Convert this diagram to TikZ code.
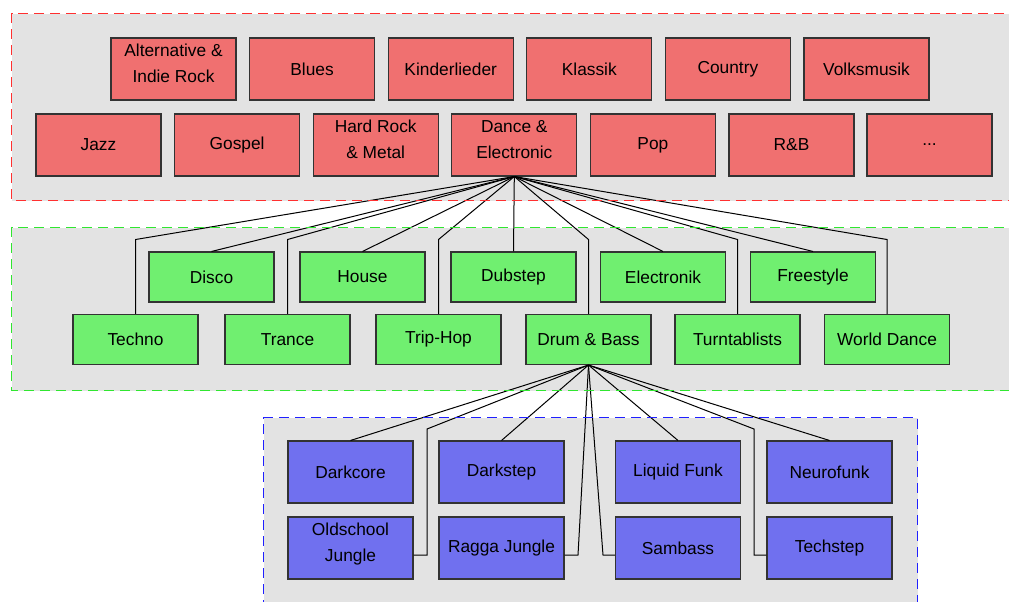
\documentclass[tikz,border=0pt]{standalone}
\usepackage{fontspec}
\setmainfont{Liberation Sans}
\definecolor{panelgray}{HTML}{E3E3E3}
\definecolor{genrered}{HTML}{F07070}
\definecolor{genregreen}{HTML}{70EF70}
\definecolor{genreblue}{HTML}{7070EF}
\definecolor{boxline}{HTML}{333333}
\definecolor{dashred}{HTML}{FF3030}
\definecolor{dashgreen}{HTML}{30E630}
\definecolor{dashblue}{HTML}{2020FF}
\newcommand{\lowpad}{\rule[-9pt]{0pt}{0pt}}
\tikzset{
  genre/.style={draw=boxline, line width=0.8pt, minimum width=93.75pt, inner sep=0pt,
    align=center, font=\fontsize{13}{19.5}\selectfont},
  topgenre/.style={genre, fill=genrered, minimum height=46.5pt},
  subgenre/.style={genre, fill=genregreen, minimum height=37.5pt},
  subsubgenre/.style={genre, fill=genreblue, minimum height=46.5pt},
  panel/.style={line width=1.2pt, dash pattern=on 7.5pt off 4.5pt},
  link/.style={line width=0.75pt}
}
\begin{document}
\begin{tikzpicture}[x=0.75pt,y=-0.75pt]
  \useasboundingbox (0,0) rectangle (1009,601);
  % panels
  \fill[panelgray] (11.5,13.5) rectangle (1020,200.5);
  \fill[panelgray] (11.5,227.5) rectangle (1020,390.5);
  \fill[panelgray] (263.5,417.5) rectangle (917.5,610);

  % genres
  \foreach \nm/\txt [count=\i from 0] in {alt/{Alternative \&\\Indie Rock\lowpad}, blues/Blues,
      kinder/Kinderlieder, klassik/Klassik, country/Country, volks/Volksmusik}
    \node[topgenre] (\nm) at (173.5+138.6*\i,69) {\txt};
  \foreach \nm/\txt [count=\i from 0] in {jazz/Jazz, gospel/Gospel, hardrock/{Hard Rock\\\& Metal\lowpad},
      dance/{Dance \&\\Electronic\lowpad}, pop/Pop, rnb/R\&B}
    \node[topgenre] (\nm) at (98.5+138.6*\i,145) {\txt};
  \node[topgenre] (more) at (929.5,145) {...};

  % sub genres
  \foreach \nm/\x/\txt in {disco/211.5/Disco, house/362.5/House, dubstep/513.5/Dubstep,
      electronik/663/Electronik, freestyle/813/Freestyle}
    \node[subgenre] (\nm) at (\x,277) {\txt};
  \foreach \nm/\x/\txt in {techno/135.5/Techno, trance/287.5/Trance, triphop/438.5/Trip-Hop,
      dnb/588.5/Drum \& Bass, turnt/737.5/Turntablists, world/887/World Dance}
    \node[subgenre] (\nm) at (\x,339.5) {\txt};

  % drum & bass styles
  \foreach \nm/\x/\txt in {darkcore/350.5/Darkcore, darkstep/501.5/Darkstep,
      liquid/678/Liquid Funk, neuro/829.5/Neurofunk}
    \node[subsubgenre] (\nm) at (\x,472) {\txt};
  \foreach \nm/\x/\txt in {oldschool/350.5/{Oldschool\\Jungle\lowpad}, ragga/501.5/Ragga Jungle,
      sambass/678/Sambass, techstep/829.5/Techstep}
    \node[subsubgenre] (\nm) at (\x,548) {\txt};

  % connectors
  \foreach \nm in {disco,house,dubstep,electronik,freestyle}
    \draw[link] (dance.south) -- (\nm.north);
  \foreach \nm in {techno,trance,triphop,dnb,turnt,world}
    \draw[link] (dance.south) -- (\nm.north |- 0,239.5) -- (\nm.north);
  \foreach \nm in {darkcore,darkstep,liquid,neuro}
    \draw[link] (dnb.south) -- (\nm.north);
  \draw[link] (dnb.south) -- (427,429) -- (427,555) -- (oldschool.east |- 0,555);
  \draw[link] (dnb.south) -- (578,555) -- (ragga.east |- 0,555);
  \draw[link] (dnb.south) -- (603,555) -- (sambass.west |- 0,555);
  \draw[link] (dnb.south) -- (754,429) -- (754,555) -- (techstep.west |- 0,555);

  % panel borders
  \draw[dashred, panel] (1020,13.5) -- (11.5,13.5) -- (11.5,200.5) -- (1020,200.5);
  \draw[dashgreen, panel] (1020,227.5) -- (11.5,227.5) -- (11.5,390.5) -- (1020,390.5);
  \draw[dashblue, panel] (263.5,610) -- (263.5,417.5) -- (917.5,417.5) -- (917.5,610);
\end{tikzpicture}
\end{document}
